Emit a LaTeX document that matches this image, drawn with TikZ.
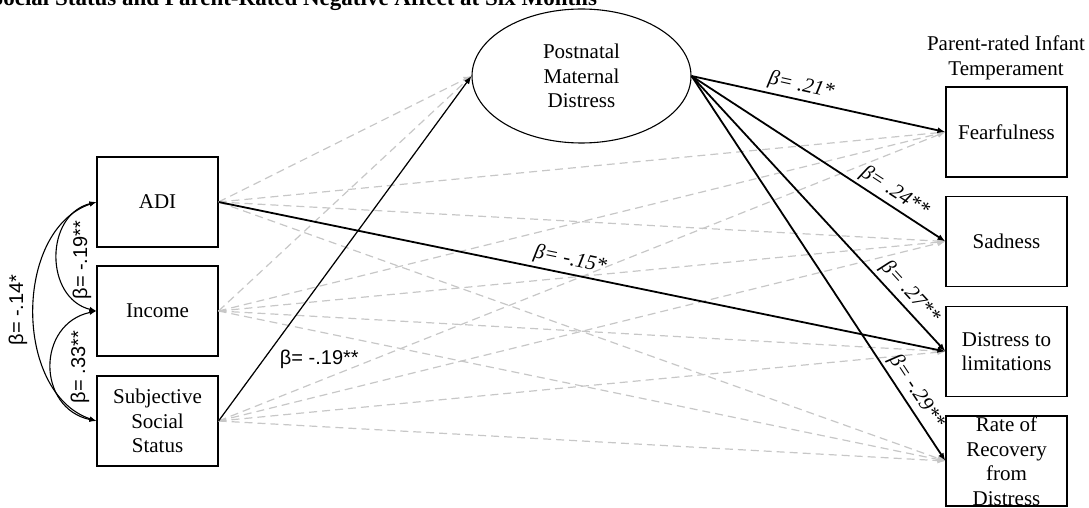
\documentclass[tikz,border=0pt]{standalone}
\usepackage{fontspec}
\setmainfont{Liberation Serif}
\newfontfamily\betasans{Liberation Sans}
\usetikzlibrary{arrows.meta,shapes.geometric}

\begin{document}
\begin{tikzpicture}[x=1bp,y=-1bp,font=\fontsize{21bp}{24.5bp}\selectfont,
  var/.style={draw,line width=1.1bp,minimum width=121bp,minimum height=90bp,inner sep=0pt,align=center},
  latent/.style={draw,ellipse,line width=1.1bp,minimum width=219bp,minimum height=134bp,inner sep=0pt,align=center},
  sigpath/.style={-{Latex[length=8bp,width=6bp]},line width=1.8bp},
  nonsig/.style={-{Latex[length=8bp,width=6bp]},line width=1.2bp,draw=black!22,dash pattern=on 8bp off 5bp},
  cov/.style={{Latex[length=7bp,width=5bp]}-{Latex[length=7bp,width=5bp]},line width=1.1bp},
  coef/.style={font=\fontsize{21bp}{24bp}\selectfont\itshape},
  coefsans/.style={font=\fontsize{20bp}{24bp}\betasans}]
\useasboundingbox (0,0) rectangle (1089,508);
\clip (0,0) rectangle (1089,508);

\node[anchor=base west,font=\fontsize{23bp}{26bp}\selectfont\bfseries] (title) at (-13,6) {Social Status and Parent-Rated Negative Affect at Six Months};

\node[var] (adi) at (157.5,202) {ADI};
\node[var] (income) at (157.5,311) {Income};
\node[var] (sss) at (157.5,421) {Subjective\\Social\\Status};
\node[latent] (pmd) at (581.5,76) {Postnatal\\Maternal\\Distress};
\node[align=center] (ptemp) at (1006,58) {Parent-rated Infant\\Temperament};
\node[var] (fear) at (1006.5,132) {Fearfulness};
\node[var] (sad) at (1006.5,241.5) {Sadness};
\node[var] (dist) at (1006.5,351.5) {Distress to\\limitations};
\node[var] (rate) at (1006.5,461) {};
\node[align=center] (ratetext) at (rate.center) {Rate of\\Recovery\\from\\Distress};

% non-significant paths
\draw[nonsig] (adi.east) -- (pmd.west);
\draw[nonsig] (adi.east) -- (fear.west);
\draw[nonsig] (adi.east) -- (sad.west);
\draw[nonsig] (adi.east) -- (rate.west);
\draw[nonsig] (income.east) -- (pmd.west);
\draw[nonsig] (income.east) -- (fear.west);
\draw[nonsig] (income.east) -- (sad.west);
\draw[nonsig] (income.east) -- (dist.west);
\draw[nonsig] (income.east) -- (rate.west);
\draw[nonsig] (sss.east) -- (pmd.west);
\draw[nonsig] (sss.east) -- (fear.west);
\draw[nonsig] (sss.east) -- (sad.west);
\draw[nonsig] (sss.east) -- (dist.west);
\draw[nonsig] (sss.east) -- (rate.west);

% significant paths
\draw[sigpath] (adi.east) -- node[coef,sloped,above,pos=.48] {β= -.15*} (dist.west);
\draw[sigpath,line width=1.2bp] (sss.east) -- node[coefsans,pos=.18,right=12bp] {β= -.19**} (pmd.west);
\draw[sigpath] (pmd.east) -- node[coef,sloped,above,pos=.42] {β= .21*} (fear.west);
\draw[sigpath] (pmd.east) -- node[coef,sloped,above,pos=.77] {β= .24**} (sad.west);
\draw[sigpath] (pmd.east) -- node[coef,sloped,above,pos=.82] {β= .27**} (dist.west);
\draw[sigpath] (pmd.east) -- node[coef,sloped,above,pos=.84] {β= -.29**} (rate.west);

% covariances
\draw[cov] (adi.west) .. controls +(-52,13) and +(-52,-13) .. (income.west);
\draw[cov] (income.west) .. controls +(-60,13) and +(-60,-13) .. (sss.west);
\draw[cov] (adi.west) .. controls +(-83,28) and +(-83,-28) .. (sss.west);
\node[coefsans,rotate=90] (r13) at (18,310) {β= -.14*};
\node[coefsans,rotate=90] (r12) at (82,260) {β= -.19**};
\node[coefsans,rotate=90] (r23) at (80,367) {β= .33**};
\end{tikzpicture}
\end{document}
